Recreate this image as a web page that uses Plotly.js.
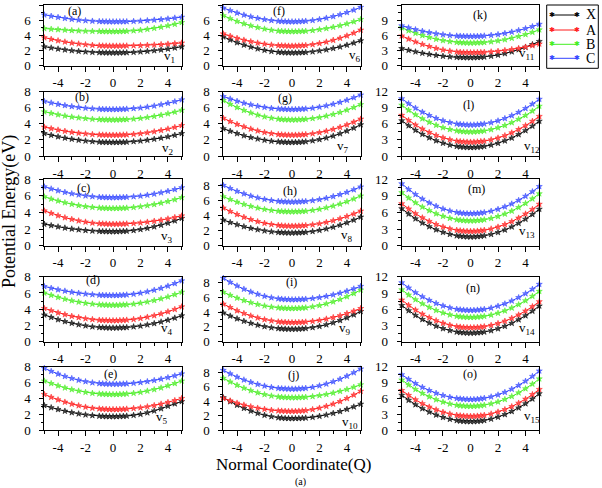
<!DOCTYPE html>
<html><head><meta charset="utf-8">
<script src="https://cdn.plot.ly/plotly-3.0.1.min.js"></script>
<style>html,body{margin:0;padding:0;background:#fff}#chart{width:602px;height:488px}</style>
</head><body><div id="chart"></div>
<script>
const Q = [-5,-4.5,-4,-3.5,-3,-2.5,-2,-1.5,-1,-0.75,-0.5,-0.25,0,0.25,0.5,0.75,1,1.5,2,2.5,3,3.5,4,4.5,5];
const seriesNames = ['X','A','B','C'];
const panelLetters = ['a','b','c','d','e','f','g','h','i','j','k','l','m','n','o'];
const xTicks = [-4,-2,0,2,4];
const xTickText = ['-4','-2','0','2','4'];

const aX = [2.5,2.35,2.21,2.09,1.99,1.9,1.83,1.77,1.73,1.72,1.71,1.7,1.7,1.7,1.71,1.72,1.73,1.77,1.83,1.9,1.99,2.09,2.21,2.35,2.5];
const aA = [3.7,3.49,3.3,3.14,3.0,2.88,2.78,2.7,2.64,2.62,2.61,2.6,2.6,2.6,2.6,2.61,2.62,2.64,2.66,2.7,2.74,2.8,2.86,2.92,3.0];
const aB = [4.9,4.82,4.76,4.7,4.64,4.6,4.56,4.54,4.52,4.51,4.5,4.5,4.5,4.5,4.51,4.53,4.55,4.61,4.69,4.8,4.93,5.09,5.27,5.47,5.7];
const aC = [6.7,6.53,6.38,6.24,6.12,6.03,5.94,5.88,5.84,5.82,5.81,5.8,5.8,5.8,5.81,5.81,5.82,5.85,5.9,5.95,6.02,6.09,6.18,6.29,6.4];

const bX = [2.8,2.59,2.4,2.24,2.1,1.98,1.88,1.8,1.74,1.72,1.71,1.7,1.7,1.7,1.71,1.72,1.74,1.8,1.88,1.98,2.1,2.24,2.4,2.59,2.8];
const bA = [3.6,3.41,3.24,3.09,2.96,2.85,2.76,2.69,2.64,2.62,2.61,2.6,2.6,2.6,2.61,2.63,2.65,2.71,2.79,2.9,3.03,3.19,3.37,3.57,3.8];
const bB = [5.5,5.31,5.14,4.99,4.86,4.75,4.66,4.59,4.54,4.52,4.51,4.5,4.5,4.5,4.51,4.53,4.55,4.61,4.69,4.8,4.93,5.09,5.27,5.47,5.7];
const bC = [6.8,6.61,6.44,6.29,6.16,6.05,5.96,5.89,5.84,5.82,5.81,5.8,5.8,5.8,5.81,5.83,5.85,5.91,5.99,6.1,6.23,6.39,6.57,6.77,7.0];

const cX = [2.6,2.43,2.28,2.14,2.02,1.93,1.84,1.78,1.74,1.72,1.71,1.7,1.7,1.7,1.72,1.74,1.76,1.84,1.96,2.1,2.28,2.48,2.72,3.0,3.3];
const cA = [4.2,3.9,3.62,3.38,3.18,3.0,2.86,2.74,2.66,2.64,2.62,2.6,2.6,2.6,2.61,2.62,2.64,2.69,2.76,2.85,2.96,3.09,3.24,3.41,3.6];
const cB = [5.9,5.63,5.4,5.19,5.0,4.85,4.72,4.63,4.56,4.53,4.51,4.5,4.5,4.5,4.51,4.53,4.55,4.62,4.71,4.83,4.97,5.14,5.33,5.55,5.8];
const cC = [7.1,6.85,6.63,6.44,6.27,6.13,6.01,5.92,5.85,5.83,5.81,5.8,5.8,5.8,5.81,5.83,5.85,5.91,5.99,6.1,6.23,6.39,6.57,6.77,7.0];

const dX = [3.3,3.0,2.72,2.48,2.28,2.1,1.96,1.84,1.76,1.74,1.72,1.7,1.7,1.7,1.72,1.73,1.76,1.84,1.94,2.08,2.24,2.44,2.66,2.92,3.2];
const dA = [4.1,3.82,3.56,3.34,3.14,2.98,2.84,2.74,2.66,2.63,2.62,2.6,2.6,2.6,2.62,2.64,2.67,2.75,2.87,3.03,3.21,3.43,3.69,3.98,4.3];
const dB = [6.0,5.72,5.46,5.24,5.04,4.88,4.74,4.64,4.56,4.53,4.52,4.5,4.5,4.5,4.52,4.54,4.56,4.64,4.76,4.9,5.08,5.28,5.52,5.8,6.1];
const dC = [6.8,6.59,6.4,6.24,6.1,5.98,5.88,5.8,5.74,5.72,5.71,5.7,5.7,5.7,5.72,5.74,5.77,5.86,5.99,6.15,6.35,6.58,6.85,7.16,7.5];

const eX = [3.1,2.83,2.6,2.39,2.2,2.05,1.92,1.83,1.76,1.73,1.71,1.7,1.7,1.7,1.72,1.74,1.77,1.86,1.99,2.18,2.42,2.7,3.02,3.32,3.6];
const eA = [4.5,4.14,3.82,3.53,3.28,3.08,2.9,2.77,2.68,2.64,2.62,2.6,2.6,2.6,2.61,2.63,2.66,2.73,2.82,2.95,3.1,3.29,3.5,3.73,4.0];
const eB = [6.2,5.88,5.59,5.33,5.11,4.93,4.77,4.65,4.57,4.54,4.52,4.5,4.5,4.5,4.52,4.54,4.57,4.65,4.77,4.93,5.11,5.33,5.59,5.88,6.2];
const eC = [7.8,7.42,7.08,6.78,6.52,6.3,6.12,5.98,5.88,5.85,5.82,5.81,5.8,5.8,5.81,5.83,5.85,5.92,6.01,6.13,6.27,6.44,6.63,6.85,7.1];

const fX = [3.8,3.4,3.04,2.73,2.46,2.23,2.04,1.89,1.78,1.75,1.72,1.71,1.7,1.7,1.72,1.74,1.76,1.84,1.96,2.1,2.28,2.48,2.72,3.0,3.3];
const fA = [4.2,3.9,3.62,3.38,3.18,3.0,2.86,2.74,2.66,2.64,2.62,2.6,2.6,2.61,2.62,2.65,2.68,2.79,2.94,3.13,3.36,3.63,3.94,4.3,4.7];
const fB = [6.6,6.2,5.84,5.53,5.26,5.03,4.84,4.69,4.58,4.55,4.52,4.51,4.5,4.5,4.52,4.54,4.56,4.64,4.76,4.9,5.08,5.28,5.52,5.8,6.1];
const fC = [7.6,7.26,6.95,6.68,6.45,6.25,6.09,5.96,5.87,5.84,5.82,5.8,5.8,5.8,5.82,5.84,5.88,5.97,6.1,6.28,6.48,6.73,7.02,7.34,7.7];

const gX = [3.4,3.08,2.79,2.53,2.31,2.13,1.97,1.85,1.77,1.74,1.72,1.7,1.7,1.71,1.72,1.75,1.79,1.9,2.05,2.25,2.49,2.78,3.11,3.48,3.9];
const gA = [4.7,4.3,3.94,3.63,3.36,3.13,2.94,2.79,2.68,2.65,2.62,2.61,2.6,2.61,2.62,2.65,2.68,2.78,2.92,3.1,3.32,3.58,3.88,4.22,4.6];
const gB = [6.9,6.44,6.04,5.68,5.36,5.1,4.88,4.72,4.6,4.55,4.52,4.51,4.5,4.5,4.52,4.54,4.58,4.67,4.8,4.98,5.18,5.43,5.72,6.04,6.4];
const gC = [7.4,7.1,6.82,6.58,6.38,6.2,6.06,5.94,5.86,5.84,5.82,5.8,5.8,5.8,5.82,5.84,5.87,5.96,6.09,6.25,6.45,6.68,6.95,7.26,7.6];

const hX = [3.4,3.08,2.79,2.53,2.31,2.13,1.97,1.85,1.77,1.74,1.72,1.7,1.7,1.71,1.72,1.75,1.78,1.89,2.04,2.23,2.46,2.73,3.04,3.4,3.8];
const hA = [5.0,4.54,4.14,3.78,3.46,3.2,2.98,2.82,2.7,2.65,2.62,2.61,2.6,2.61,2.62,2.65,2.68,2.78,2.92,3.1,3.32,3.58,3.88,4.22,4.6];
const hB = [6.5,6.12,5.78,5.48,5.22,5.0,4.82,4.68,4.58,4.55,4.52,4.51,4.5,4.51,4.52,4.55,4.58,4.69,4.84,5.03,5.26,5.53,5.84,6.2,6.6];
const hC = [8.0,7.58,7.21,6.88,6.59,6.35,6.15,6.0,5.89,5.85,5.82,5.81,5.8,5.81,5.82,5.85,5.88,5.98,6.12,6.3,6.52,6.78,7.08,7.42,7.8];

const iX = [3.9,3.48,3.11,2.78,2.49,2.25,2.05,1.9,1.79,1.75,1.72,1.71,1.7,1.71,1.72,1.75,1.8,1.92,2.08,2.3,2.56,2.88,3.24,3.64,4.1];
const iA = [5.1,4.63,4.2,3.83,3.5,3.23,3.0,2.83,2.7,2.66,2.63,2.61,2.6,2.6,2.62,2.64,2.68,2.77,2.9,3.08,3.28,3.53,3.82,4.14,4.5];
const iB = [6.7,6.28,5.91,5.58,5.29,5.05,4.85,4.7,4.59,4.55,4.52,4.51,4.5,4.51,4.53,4.56,4.6,4.73,4.9,5.13,5.4,5.73,6.1,6.53,7.0];
const iC = [8.6,8.05,7.56,7.12,6.74,6.43,6.16,5.96,5.82,5.77,5.73,5.71,5.7,5.7,5.72,5.74,5.77,5.86,5.99,6.15,6.35,6.58,6.85,7.16,7.5];

const jX = [4.5,3.95,3.46,3.02,2.64,2.33,2.06,1.86,1.72,1.67,1.63,1.61,1.6,1.61,1.62,1.65,1.68,1.78,1.92,2.1,2.32,2.58,2.88,3.22,3.6];
const jA = [4.4,4.06,3.75,3.48,3.25,3.05,2.89,2.76,2.67,2.64,2.62,2.6,2.6,2.61,2.63,2.66,2.71,2.85,3.05,3.3,3.61,3.97,4.39,4.87,5.4];
const jB = [7.2,6.69,6.23,5.82,5.47,5.18,4.93,4.74,4.61,4.56,4.53,4.51,4.5,4.5,4.52,4.54,4.57,4.66,4.79,4.95,5.15,5.38,5.65,5.96,6.3];
const jC = [8.3,7.81,7.36,6.97,6.64,6.35,6.12,5.93,5.8,5.76,5.73,5.71,5.7,5.71,5.73,5.76,5.81,5.95,6.15,6.4,6.71,7.07,7.49,7.97,8.5];

const kX = [3.4,3.06,2.75,2.48,2.25,2.05,1.89,1.76,1.67,1.64,1.62,1.6,1.6,1.61,1.63,1.67,1.73,1.89,2.11,2.4,2.75,3.17,3.65,4.19,4.8];
const kA = [5.9,5.27,4.71,4.22,3.79,3.43,3.13,2.9,2.73,2.67,2.63,2.61,2.6,2.6,2.62,2.64,2.67,2.75,2.87,3.03,3.21,3.43,3.69,3.98,4.3];
const kB = [7.5,6.93,6.42,5.97,5.58,5.25,4.98,4.77,4.62,4.57,4.53,4.51,4.5,4.51,4.53,4.56,4.6,4.73,4.92,5.15,5.44,5.77,6.16,6.61,7.1];
const kC = [7.9,7.5,7.14,6.83,6.56,6.33,6.14,5.99,5.88,5.85,5.82,5.81,5.8,5.81,5.82,5.85,5.9,6.02,6.18,6.4,6.66,6.98,7.34,7.74,8.2];

const lX = [6.6,5.65,4.8,4.05,3.4,2.85,2.4,2.05,1.8,1.71,1.65,1.61,1.6,1.61,1.65,1.71,1.8,2.04,2.38,2.83,3.36,4.0,4.74,5.57,6.5];
const lA = [7.6,6.65,5.8,5.05,4.4,3.85,3.4,3.05,2.8,2.71,2.65,2.61,2.6,2.61,2.65,2.71,2.79,3.03,3.37,3.8,4.33,4.95,5.67,6.49,7.4];
const lB = [9.5,8.55,7.7,6.95,6.3,5.75,5.3,4.95,4.7,4.61,4.55,4.51,4.5,4.51,4.55,4.61,4.69,4.93,5.27,5.7,6.23,6.85,7.57,8.39,9.3];
const lC = [10.7,9.77,8.94,8.2,7.56,7.03,6.58,6.24,6.0,5.91,5.85,5.81,5.8,5.81,5.85,5.91,5.99,6.23,6.57,7.0,7.53,8.15,8.87,9.69,10.6];

const mX = [6.7,5.73,4.86,4.1,3.44,2.88,2.42,2.06,1.8,1.71,1.65,1.61,1.6,1.61,1.65,1.71,1.8,2.05,2.4,2.85,3.4,4.05,4.8,5.65,6.6];
const mA = [7.6,6.65,5.8,5.05,4.4,3.85,3.4,3.05,2.8,2.71,2.65,2.61,2.6,2.61,2.65,2.71,2.8,3.04,3.38,3.83,4.36,5.0,5.74,6.57,7.5];
const mB = [9.6,8.63,7.76,7.0,6.34,5.78,5.32,4.96,4.7,4.61,4.55,4.51,4.5,4.51,4.55,4.61,4.7,4.94,5.28,5.73,6.26,6.9,7.64,8.47,9.4];
const mC = [11.2,10.17,9.26,8.45,7.74,7.15,6.66,6.29,6.02,5.92,5.85,5.81,5.8,5.81,5.85,5.91,6.0,6.24,6.58,7.03,7.56,8.2,8.94,9.77,10.7];

const nX = [6.7,5.73,4.86,4.1,3.44,2.88,2.42,2.06,1.8,1.71,1.65,1.61,1.6,1.61,1.65,1.71,1.8,2.05,2.4,2.85,3.4,4.05,4.8,5.65,6.6];
const nA = [7.7,6.73,5.86,5.1,4.44,3.88,3.42,3.06,2.8,2.71,2.65,2.61,2.6,2.61,2.65,2.71,2.79,3.03,3.37,3.8,4.33,4.95,5.67,6.49,7.4];
const nB = [9.6,8.63,7.76,7.0,6.34,5.78,5.32,4.96,4.7,4.61,4.55,4.51,4.5,4.51,4.55,4.61,4.69,4.93,5.27,5.7,6.23,6.85,7.57,8.39,9.3];
const nC = [10.9,9.93,9.06,8.3,7.64,7.08,6.62,6.26,6.0,5.91,5.85,5.81,5.8,5.81,5.85,5.91,5.99,6.23,6.57,7.0,7.53,8.15,8.87,9.69,10.6];

const oX = [6.6,5.65,4.8,4.05,3.4,2.85,2.4,2.05,1.8,1.71,1.65,1.61,1.6,1.61,1.65,1.72,1.81,2.08,2.45,2.93,3.51,4.2,4.99,5.89,6.9];
const oA = [7.5,6.57,5.74,5.0,4.36,3.83,3.38,3.04,2.8,2.71,2.65,2.61,2.6,2.61,2.65,2.71,2.8,3.06,3.42,3.88,4.44,5.1,5.86,6.73,7.7];
const oB = [9.5,8.55,7.7,6.95,6.3,5.75,5.3,4.95,4.7,4.61,4.55,4.51,4.5,4.51,4.55,4.62,4.71,4.97,5.33,5.8,6.37,7.05,7.83,8.71,9.7];
const oC = [10.5,9.61,8.81,8.1,7.49,6.98,6.55,6.22,5.99,5.91,5.85,5.81,5.8,5.81,5.85,5.92,6.02,6.29,6.66,7.15,7.74,8.45,9.26,10.17,11.2];

const panelData = [
  [aX,aA,aB,aC],[bX,bA,bB,bC],[cX,cA,cB,cC],[dX,dA,dB,dC],[eX,eA,eB,eC],
  [fX,fA,fB,fC],[gX,gA,gB,gC],[hX,hA,hB,hC],[iX,iA,iB,iC],[jX,jA,jB,jC],
  [kX,kA,kB,kC],[lX,lA,lB,lC],[mX,mA,mB,mC],[nX,nA,nB,nC],[oX,oA,oB,oC]
];

// ---- styling / layout ----
const W = 602, H = 488;
const FONT = 'Liberation Serif, Times New Roman, serif';
const colors = ['#000000','#ff1a1a','#44ee22','#3344ff'];
const markerColors = ['#444444','#ff5555','#77f055','#6677ff'];
const colPx = [[44.3,181.7],[223.3,360.7],[401.7,539.3]];
const rowPx = [[5,65.7],[91.7,156],[179.3,245.7],[276.7,341.7],[366.7,430]];
const labelPos = [[74,11],[81.7,97],[83.3,188],[93.3,280],[110,373.5],
                  [279.3,11],[285,97.5],[290,191],[291.7,281.7],[293.3,375],
                  [480,15],[468.3,105],[476.7,189.3],[473.3,288.3],[470,374]];
const vPos = [[169,57],[168.3,148.3],[166.7,236.7],[166.7,328.3],[161.7,417],
              [355,55],[343.3,146.7],[346.7,235],[345,328.3],[350,422.7],
              [526.7,54],[531.7,146.7],[526.7,231.7],[526.7,328.3],[531.7,416]];

const traces = [];
const layout = {
  width: W, height: H,
  margin: {l:0,r:0,t:0,b:0},
  paper_bgcolor: '#fff', plot_bgcolor: '#fff',
  font: {family: FONT, color: '#000', size: 13},
  showlegend: false,
  annotations: [], shapes: []
};

for (let p = 0; p < 15; p++) {
  const col = Math.floor(p/5), row = p%5;
  const k = p+1;
  const xa = 'x'+(k===1?'':k), ya = 'y'+(k===1?'':k);
  const xkey = 'xaxis'+(k===1?'':k), ykey = 'yaxis'+(k===1?'':k);
  panelData[p].forEach((ys, s) => {
    traces.push({
      type:'scatter', mode:'lines+markers', x:Q, y:ys, xaxis:xa, yaxis:ya,
      name: seriesNames[s], showlegend:false,
      cliponaxis:false,
      line:{color:colors[s], width:1},
      marker:{symbol:'star', size:4.5, color:markerColors[s], line:{width:0.5,color:colors[s]}}
    });
  });
  const [x0,x1] = colPx[col], [y0,y1] = rowPx[row];
  let yr, dt, mdt;
  if (col===2) { yr=[0,12]; dt=3; mdt=1.5; }
  else if (col===1 && row>=2) { yr=[0,8.8]; dt=2; mdt=1; }
  else { yr=[0,8]; dt=2; mdt=1; }
  layout[xkey] = {
    domain:[x0/W, x1/W], anchor: ya, range:[-5,5], tickvals:xTicks, ticktext:xTickText,
    ticks:'outside', ticklen:5, tickwidth:1, tickcolor:'#000',
    minor:{dtick:1, tick0:-5, ticks:'outside', ticklen:3, tickcolor:'#000', tickwidth:1},
    showline:true, linecolor:'#000', linewidth:1, mirror:true,
    showgrid:false, zeroline:false, ticklabelstandoff:0,
    tickfont:{family:FONT,size:13,color:'#000'}
  };
  layout[ykey] = {
    domain:[1-y1/H, 1-y0/H], anchor: xa, range:yr, dtick:dt, tick0:0,
    ticks:'outside', ticklen:4, tickwidth:1, tickcolor:'#000',
    minor:{dtick:mdt, ticks:'outside', ticklen:2.5, tickcolor:'#000', tickwidth:1},
    showline:true, linecolor:'#000', linewidth:1, mirror:true,
    showgrid:false, zeroline:false, ticklabelstandoff:6,
    tickfont:{family:FONT,size:13,color:'#000'}
  };
  layout.annotations.push({xref:'paper', yref:'paper', x:labelPos[p][0]/W, y:1-labelPos[p][1]/H,
    text:'('+panelLetters[p]+')', showarrow:false, xanchor:'center', yanchor:'middle',
    font:{family:FONT,size:12,color:'#000'}});
  layout.annotations.push({xref:'paper', yref:'paper', x:vPos[p][0]/W, y:1-vPos[p][1]/H,
    text:'v<sub>'+(p+1)+'</sub>', showarrow:false, xanchor:'center', yanchor:'middle',
    font:{family:FONT,size:13,color:'#000'}});
}

// legend box (drawn as layout decoration)
const legY = [15, 30, 44.3, 58.3];
layout.shapes.push({type:'rect', xref:'paper', yref:'paper', x0:546.7/W, x1:598.3/W, y0:1-68.3/H, y1:1-5/H,
  line:{color:'#000', width:1}, fillcolor:'#fff', layer:'above'});
seriesNames.forEach((nm, s) => {
  const yy = 1 - legY[s]/H;
  layout.shapes.push({type:'line', xref:'paper', yref:'paper', x0:552/W, x1:576.5/W, y0:yy, y1:yy,
    line:{color:colors[s], width:1}, layer:'above'});
  [552, 576.5].forEach(xp => layout.annotations.push({xref:'paper', yref:'paper', x:xp/W, y:yy,
    text:'✱', showarrow:false, xanchor:'center', yanchor:'middle',
    font:{family:'DejaVu Sans', size:7, color:colors[s]}}));
  layout.annotations.push({xref:'paper', yref:'paper', x:584/W, y:yy, text:nm, showarrow:false,
    xanchor:'left', yanchor:'middle', font:{family:FONT, size:14, color:'#000'}});
});

layout.annotations.push({xref:'paper', yref:'paper', x:10/W, y:1-212/H, text:'Potential Energy(eV)',
  textangle:-90, showarrow:false, xanchor:'center', yanchor:'middle', font:{family:FONT,size:18,color:'#000'}});
layout.annotations.push({xref:'paper', yref:'paper', x:293/W, y:1-464/H, text:'Normal Coordinate(Q)',
  showarrow:false, xanchor:'center', yanchor:'middle', font:{family:FONT,size:17,color:'#000'}});
layout.annotations.push({xref:'paper', yref:'paper', x:300/W, y:1-481.5/H, text:'(a)',
  showarrow:false, xanchor:'center', yanchor:'middle', font:{family:FONT,size:10,color:'#000'}});

Plotly.newPlot('chart', traces, layout, {displayModeBar:false, staticPlot:true});
</script></body></html>
